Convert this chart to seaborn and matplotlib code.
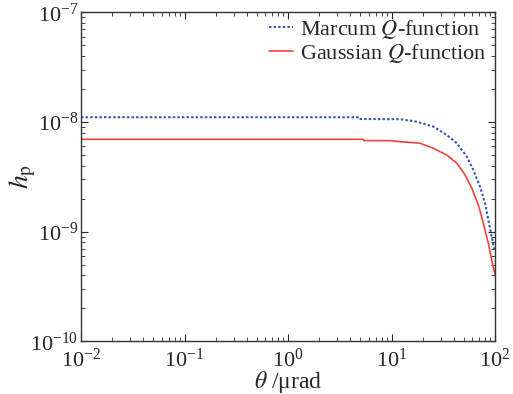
import numpy as np
import pandas as pd
import matplotlib
matplotlib.use("Agg")
import matplotlib.pyplot as plt
import seaborn as sns

# theta in microrad, h_p values
theta_marcum = [0.01, 4.9, 5.0, 12.1, 17.5, 25.4, 34.1, 42.7, 53.3, 61.7, 71.6,
                80.0, 86.1, 92.9, 98.4, 100.0]
hp_marcum = [1.104e-8, 1.104e-8, 1.064e-8, 1.059e-8, 1.006e-8, 9.06e-9, 7.62e-9, 6.40e-9,
             4.83e-9, 3.65e-9, 2.57e-9, 1.82e-9, 1.28e-9, 9.0e-10, 6.8e-10, 6.6e-10]

theta_gauss = [0.01, 5.3, 5.42, 9.6, 12.1, 18.8, 25.4, 34.1, 42.7, 51.3, 59.6, 69.0,
               77.1, 86.1, 92.9, 98.4, 100.0]
hp_gauss = [6.95e-9, 6.95e-9, 6.76e-9, 6.76e-9, 6.61e-9, 6.40e-9, 5.75e-9, 5.00e-9,
            4.21e-9, 3.29e-9, 2.49e-9, 1.75e-9, 1.19e-9, 7.84e-10, 5.52e-10, 4.32e-10, 4.1e-10]

xticks = [1e-2, 1e-1, 1e0, 1e1, 1e2]
yticks = [1e-10, 1e-9, 1e-8, 1e-7]

df_m = pd.DataFrame({"theta": theta_marcum, "hp": hp_marcum})
df_g = pd.DataFrame({"theta": theta_gauss, "hp": hp_gauss})

sns.set_style("ticks")
plt.rcParams["font.family"] = ["Liberation Serif", "DejaVu Serif"]
plt.rcParams["mathtext.fontset"] = "stix"

fig = plt.figure(figsize=(5.13, 3.94), dpi=100)
ax = fig.add_axes([0.158, 0.1335, 0.807, 0.8355])

sns.lineplot(data=df_m, x="theta", y="hp", ax=ax, sort=False, color="#3459b5",
             linestyle=(0, (1.2, 1.0)), linewidth=1.5, label=r"Marcum $Q$-function")
sns.lineplot(data=df_g, x="theta", y="hp", ax=ax, sort=False, color="#f2443c",
             linewidth=1.2, label=r"Gaussian $Q$-function")

ax.set_xscale("log")
ax.set_yscale("log")
ax.set_xticks(xticks)
ax.set_yticks(yticks)
ax.set_xlim(1e-2, 1e2)
ax.set_ylim(1e-10, 1e-7)

ax.tick_params(which="both", direction="in", top=True, right=True, labelsize=16)
ax.tick_params(which="major", length=5)
ax.tick_params(which="minor", length=3)
ax.tick_params(axis="x", pad=5)
ax.tick_params(axis="y", pad=2)
for s in ax.spines.values():
    s.set_color("#333333")
    s.set_linewidth(1.0)

ax.set_xlabel(r"$\theta$ /μrad", fontsize=17)
ax.set_ylabel(r"$h_{\rm p}$", fontsize=20)
ax.xaxis.set_label_coords(0.5, -0.085)
ax.yaxis.set_label_coords(-0.105, 0.5)

ax.legend(loc="upper right", frameon=False, fontsize=16, handlelength=1.1,
          handletextpad=0.3, borderaxespad=0.0, labelspacing=0.05,
          bbox_to_anchor=(1.0, 1.01))

fig.savefig("out.png", dpi=100)
